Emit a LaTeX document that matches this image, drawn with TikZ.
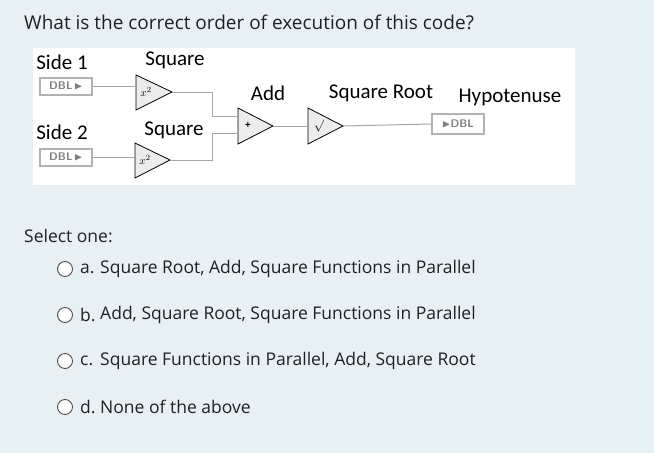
\documentclass[tikz,border=0pt]{standalone}
\usepackage{amssymb}
\usepackage{fontspec}
\setmainfont{Open Sans}
\newfontfamily\lbl{Carlito}
\definecolor{bg}{HTML}{E7F1F4}
\definecolor{txt}{HTML}{1D2125}
\begin{document}
\begin{tikzpicture}[x=1pt,y=-1pt,
  lab/.style={font=\lbl\fontsize{21}{21}\selectfont,inner sep=0},
  tri/.style={draw,fill=gray!15,line width=0.8pt},
  wire/.style={draw=gray!70,line width=1pt},
  dbl/.style={draw=gray!60,fill=white,inner sep=0,font=\sffamily\bfseries\fontsize{11}{11}\selectfont,text=gray},
  opt/.style={font=\fontsize{17.5}{18}\selectfont,text=txt,anchor=west,inner sep=0},
  radio/.style={draw=gray!60!black,line width=0.9pt,circle,minimum size=15pt,inner sep=0,fill=white}]
\fill[bg] (0,0) rectangle (654,453);
\useasboundingbox (0,0) rectangle (654,453);
\node[opt,font=\fontsize{19}{20}\selectfont] (q) at (24,22) {What is the correct order of execution of this code?};
\fill[white] (33,48) rectangle (575,185);
% controls
\node[dbl,line width=2pt,minimum width=52pt,minimum height=17pt] (s1) at (66,86) {DBL\,$\blacktriangleright$};
\node[dbl,line width=2pt,minimum width=52pt,minimum height=17pt] (s2) at (66,157) {DBL\,$\blacktriangleright$};
\node[dbl,line width=1.2pt,minimum width=52pt,minimum height=20pt] (h) at (458,124) {$\blacktriangleright$DBL};
% triangles
\path[tri] (136,75) -- (172,92) -- (136,110) -- cycle;
\node at (146,92) {\fontsize{11}{11}\selectfont$x^2$};
\path[tri] (135,143) -- (170,160) -- (135,178) -- cycle;
\node at (145,160) {\fontsize{11}{11}\selectfont$x^2$};
\path[tri] (238,108) -- (273,126) -- (238,144) -- cycle;
\node at (248,126) {\bfseries +};
\path[tri] (308,108) -- (343,126) -- (308,144) -- cycle;
\node at (319,126) {\fontsize{13}{13}\selectfont$\surd$};
% wires
\draw[wire] (s1.east) -- (136,86);
\draw[wire] (s2.east) -- (135,157);
\draw[wire] (172,92) -- (212,92) -- (212,116) -- (238,116);
\draw[wire] (170,160) -- (212,160) -- (212,133) -- (238,133);
\draw[wire] (273,126) -- (308,126);
\draw[wire] (343,126) -- (h.west);
% labels
\node[lab] (l1) at (62,62) {Side 1};
\node[lab] (l2) at (175,60) {Square};
\node[lab] (l3) at (268,93) {Add};
\node[lab] (l4) at (381,93) {Square Root};
\node[lab] (l5) at (510,97) {Hypotenuse};
\node[lab] (l6) at (62,132) {Side 2};
\node[lab] (l7) at (174,130) {Square};
% options
\node[opt] (sel) at (24,236) {Select one:};
\foreach \y/\l/\t [count=\i] in {269/a./{Square Root, Add, Square Functions in Parallel},315/b./{Add, Square Root, Square Functions in Parallel},361/c./{Square Functions in Parallel, Add, Square Root},407/d./{None of the above}}{
  \node[radio] (r\i) at (65,\y) {};
  \node[opt] (k\i) at (80,\y) {\l};
  \node[opt] (t\i) at (100,\y) {\t};
}
\end{tikzpicture}
\end{document}
